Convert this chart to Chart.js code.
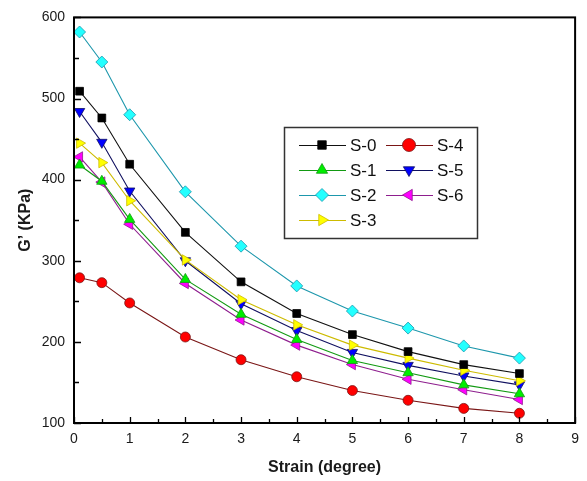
<!DOCTYPE html>
<html>
<head>
<meta charset="utf-8">
<script src="https://cdn.jsdelivr.net/npm/chart.js@4.4.1/dist/chart.umd.min.js"></script>
<style>
  html, body { margin: 0; padding: 0; background: #fff; }
  #wrap { width: 587px; height: 481px; position: relative; }
</style>
</head>
<body>
<div id="wrap"><canvas id="chart"></canvas></div>
<script>
// strain (degree)
const strain = [0.1, 0.5, 1, 2, 3, 4, 5, 6, 7, 8];

// G' (KPa) per sample
const s0 = [509, 476, 419, 335, 274, 235, 209, 188, 172, 161];
const s1 = [418, 398, 351, 277, 234, 203, 177, 162, 147, 136];
const s2 = [582, 545, 480, 385, 318, 269, 238, 217, 195, 180];
const s3 = [445, 421, 374, 301, 252, 221, 196, 180, 165, 152];
const s4 = [279, 273, 248, 206, 178, 157, 140, 128, 118, 112];
const s5 = [484, 446, 386, 300, 247, 214, 187, 171, 158, 147];
const s6 = [428, 397, 345, 272, 227, 196, 172, 154, 141, 129];

const xTicks = [0, 1, 2, 3, 4, 5, 6, 7, 8, 9];
const yTicks = [100, 200, 300, 400, 500, 600];

const series = [
  { label: "S-0", data: s0, line: "#111111", fill: "#000000", style: "rect", rot: 0, r: 5.5 },
  { label: "S-1", data: s1, line: "#129a12", fill: "#00ee00", style: "triangle", rot: 0, r: 6 },
  { label: "S-2", data: s2, line: "#1d97ac", fill: "#22ffff", style: "rectRot", rot: 0, r: 6 },
  { label: "S-3", data: s3, line: "#cdbb00", fill: "#ffff00", style: "triangle", rot: 90, r: 6 },
  { label: "S-4", data: s4, line: "#7a1616", fill: "#ff0000", style: "circle", rot: 0, r: 5 },
  { label: "S-5", data: s5, line: "#101060", fill: "#0000ff", style: "triangle", rot: 180, r: 6 },
  { label: "S-6", data: s6, line: "#8e1e8e", fill: "#ff00ff", style: "triangle", rot: -90, r: 6 }
];

const datasets = series.map(s => ({
  label: s.label,
  data: s.data.map((v, i) => ({ x: strain[i], y: v })),
  borderColor: s.line,
  borderWidth: 1.1,
  backgroundColor: s.fill,
  pointBackgroundColor: s.fill,
  pointBorderColor: s.style === "rect" ? s.fill : s.line,
  pointBorderWidth: 0.8,
  pointStyle: s.style,
  pointRotation: s.rot,
  pointRadius: s.r,
  tension: 0,
  fill: false
}));

// frame around the plot with inward ticks
const framePlugin = {
  id: "frame",
  afterDatasetsDraw(chart) {
    const { ctx, chartArea: a, scales } = chart;
    ctx.save();
    ctx.strokeStyle = "#000";
    ctx.lineWidth = 1.3;
    ctx.beginPath();
    for (let v = 0; v <= 9; v += 0.5) {
      const px = Math.round(scales.x.getPixelForValue(v)) + 0.5;
      const len = Number.isInteger(v) ? 6 : 4;
      ctx.moveTo(px, a.bottom);
      ctx.lineTo(px, a.bottom - len);
    }
    for (let v = 100; v <= 600; v += 50) {
      const py = Math.round(scales.y.getPixelForValue(v)) + 0.5;
      const len = v % 100 === 0 ? 7 : 5;
      ctx.moveTo(a.left, py);
      ctx.lineTo(a.left + len, py);
    }
    ctx.stroke();
    ctx.lineWidth = 2;
    ctx.strokeRect(a.left, a.top, a.right - a.left, a.bottom - a.top);
    ctx.restore();
  }
};

// two-column boxed legend
const legendPlugin = {
  id: "boxLegend",
  afterDraw(chart) {
    const { ctx } = chart;
    const box = { x: 284, y: 127, w: 193, h: 111 };
    const cols = [299, 386];
    const rowY = [145, 170, 195, 220];
    ctx.save();
    ctx.fillStyle = "#fff";
    ctx.fillRect(box.x, box.y, box.w, box.h);
    ctx.strokeStyle = "#333";
    ctx.lineWidth = 1.5;
    ctx.strokeRect(box.x + 0.5, box.y + 0.5, box.w, box.h);
    series.forEach((s, i) => {
      const col = i < 4 ? 0 : 1;
      const row = i < 4 ? i : i - 4;
      const x0 = cols[col];
      const y = rowY[row];
      ctx.strokeStyle = s.line;
      ctx.lineWidth = 1.2;
      ctx.beginPath();
      ctx.moveTo(x0, y + 0.5);
      ctx.lineTo(x0 + 47, y + 0.5);
      ctx.stroke();
      ctx.fillStyle = s.fill;
      ctx.strokeStyle = s.style === "rect" ? s.fill : s.line;
      ctx.lineWidth = 0.8;
      Chart.helpers.drawPoint(ctx, {
        pointStyle: s.style,
        rotation: s.rot,
        radius: s.style === "rect" ? 6 : 6.5,
        borderWidth: 0.8
      }, x0 + 23, y);
      ctx.fillStyle = "#111";
      ctx.font = "17px 'Liberation Sans', Arial, sans-serif";
      ctx.textBaseline = "middle";
      ctx.textAlign = "left";
      ctx.fillText(s.label, x0 + 51, y + 1);
    });
    ctx.restore();
  }
};

new Chart(document.getElementById("chart"), {
  type: "line",
  data: { datasets },
  plugins: [framePlugin, legendPlugin],
  options: {
    responsive: true,
    maintainAspectRatio: false,
    animation: false,
    layout: { padding: { left: 0, top: 15, right: 10, bottom: 0 } },
    plugins: {
      legend: { display: false },
      tooltip: { enabled: false }
    },
    scales: {
      x: {
        type: "linear",
        min: xTicks[0],
        max: xTicks[xTicks.length - 1],
        afterBuildTicks(scale) { scale.ticks = xTicks.map(v => ({ value: v })); },
        afterFit(scale) { scale.height = 58; },
        grid: { display: false, drawTicks: false },
        border: { display: false },
        ticks: {
          padding: 8,
          color: "#1a1a1a",
          font: { family: "'Liberation Sans', Arial, sans-serif", size: 14 }
        },
        title: {
          display: true,
          text: "Strain (degree)",
          color: "#1a1a1a",
          padding: { top: 0, bottom: 4 },
          font: { family: "'Liberation Sans', Arial, sans-serif", size: 16, weight: "bold" }
        }
      },
      y: {
        min: yTicks[0],
        max: yTicks[yTicks.length - 1],
        afterBuildTicks(scale) { scale.ticks = yTicks.map(v => ({ value: v })); },
        afterFit(scale) { scale.width = 74; },
        grid: { display: false, drawTicks: false },
        border: { display: false },
        ticks: {
          padding: 9,
          color: "#1a1a1a",
          font: { family: "'Liberation Sans', Arial, sans-serif", size: 14 }
        },
        title: {
          display: true,
          text: "G’ (KPa)",
          color: "#1a1a1a",
          padding: { top: 16, bottom: 0 },
          font: { family: "'Liberation Sans', Arial, sans-serif", size: 16, weight: "bold" }
        }
      }
    }
  }
});
</script>
</body>
</html>
